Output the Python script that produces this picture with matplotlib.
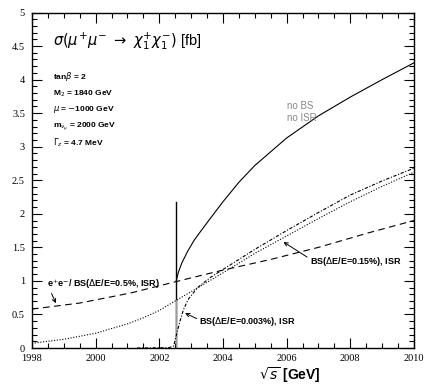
import matplotlib
matplotlib.use("Agg")
import matplotlib.pyplot as plt
from matplotlib.ticker import MultipleLocator

# sqrt(s) [GeV] vs sigma [fb]
x_nobs = [2002.53, 2002.6, 2002.7, 2002.9, 2003.1, 2003.3, 2003.6, 2004.0, 2004.5, 2005.0, 2006.0, 2007.0, 2008.0, 2009.0, 2010.0]
y_nobs = [1.00, 1.13, 1.26, 1.45, 1.61, 1.74, 1.93, 2.18, 2.47, 2.72, 3.13, 3.46, 3.74, 4.00, 4.25]

x_ee = [1998.0, 1999.5, 2001.1, 2002.53, 2003.9, 2005.5, 2007.0, 2008.6, 2010.0]
y_ee = [0.58, 0.67, 0.82, 0.99, 1.15, 1.32, 1.50, 1.72, 1.90]

x_bs15 = [1998.0, 1999.0, 2000.0, 2001.0, 2001.5, 2002.0, 2002.53, 2003.0, 2004.0, 2005.0, 2006.0, 2007.0, 2008.0, 2009.0, 2010.0]
y_bs15 = [0.07, 0.13, 0.22, 0.36, 0.45, 0.56, 0.71, 0.84, 1.12, 1.41, 1.67, 1.93, 2.18, 2.41, 2.62]

x_bs003 = [2001.3, 2002.3, 2002.45, 2002.55, 2002.65, 2002.75, 2002.9, 2003.2, 2003.6, 2004.1, 2005.0, 2006.0, 2007.0, 2008.0, 2009.0, 2010.0]
y_bs003 = [0.0, 0.005, 0.03, 0.22, 0.40, 0.56, 0.72, 0.90, 1.05, 1.20, 1.47, 1.75, 2.02, 2.28, 2.49, 2.68]

threshold = 2002.53
spike_top = 2.17

params = [r"tan$\beta$ = 2",
          r"M$_2$ = 1840 GeV",
          r"$\mu$ = $-$1000 GeV",
          r"m$_{\tilde{\nu}_\mu}$ = 2000 GeV",
          r"$\Gamma_z$ = 4.7 MeV"]

plt.rcParams['mathtext.fontset'] = 'dejavusans'
sans = ['Liberation Sans', 'DejaVu Sans']
serif = ['Liberation Serif', 'DejaVu Serif']

fig = plt.figure(figsize=(4.37, 3.85), dpi=100)
ax = fig.add_axes([0.0732, 0.0961, 0.8741, 0.8714])

lw = 0.8
ax.plot(x_nobs, y_nobs, color='black', lw=lw)
ax.plot([threshold, threshold], [0, spike_top], color='black', lw=1.0)
ax.plot([threshold, threshold], [0, y_bs15[6]], color='#999999', lw=1.0)
ax.plot(x_ee, y_ee, color='black', lw=lw, dashes=(6, 4))
ax.plot(x_bs15, y_bs15, color='black', lw=lw, linestyle=(0, (1, 1.5)))
ax.plot(x_bs003, y_bs003, color='black', lw=lw, linestyle=(0, (3, 1.5, 1, 1.5)))

ax.set_xlim(1998, 2010)
ax.set_ylim(0, 5)
ax.xaxis.set_major_locator(MultipleLocator(2))
ax.xaxis.set_minor_locator(MultipleLocator(0.5))
ax.yaxis.set_major_locator(MultipleLocator(0.5))
ax.yaxis.set_minor_locator(MultipleLocator(0.1))
ax.tick_params(which='both', direction='in', top=True, right=True, width=0.8)
ax.tick_params(which='major', length=7)
ax.tick_params(which='minor', length=3.5)
ax.tick_params(axis='x', pad=4)
ax.tick_params(axis='y', pad=5)
ax.set_yticks([0, 0.5, 1, 1.5, 2, 2.5, 3, 3.5, 4, 4.5, 5])
ax.set_yticklabels(['0', '0.5', '1', '1.5', '2', '2.5', '3', '3.5', '4', '4.5', '5'])
for lab in ax.get_xticklabels() + ax.get_yticklabels():
    lab.set_family(serif)
    lab.set_fontsize(7.5)
for s in ax.spines.values():
    s.set_linewidth(1.0)

ax.set_xlabel(r"$\sqrt{s}$ [GeV]", family=sans, fontsize=10, fontweight='bold')
ax.xaxis.set_label_coords(0.675, -0.05)

ax.text(1998.66, 4.57, r"$\sigma(\mu^{+}\mu^{-}\ \rightarrow\ \chi_1^{+}\chi_1^{-})$ [fb]",
        family=sans, fontsize=10.5, va='center')
for i, p in enumerate(params):
    ax.text(1998.66, 4.04 - i * 0.245, p, family=sans, fontsize=6,
            fontweight='bold', va='center')

ax.text(2006.0, 3.52, "no BS\nno ISR", family=sans, fontsize=7, color='#888888',
        va='center', linespacing=1.3)

arrow = dict(arrowstyle='->', color='black', lw=0.7, shrinkA=0, shrinkB=0)
ax.annotate(r"e$^{+}$e$^{-}$/ BS($\Delta$E/E=0.5%, ISR)", xy=(1998.75, 0.667),
            xytext=(1998.47, 0.955), family=sans, fontsize=6.5, fontweight='bold',
            va='center', arrowprops=dict(arrow, relpos=(0.03, 0.0)))
ax.annotate(r"BS($\Delta$E/E=0.003%), ISR", xy=(2002.81, 0.52),
            xytext=(2003.26, 0.40), family=sans, fontsize=6.5, fontweight='bold',
            va='center', arrowprops=dict(arrow, relpos=(0.0, 0.6)))
ax.annotate(r"BS($\Delta$E/E=0.15%), ISR", xy=(2005.9, 1.58),
            xytext=(2006.73, 1.29), family=sans, fontsize=6.5, fontweight='bold',
            va='center', arrowprops=dict(arrow, relpos=(0.0, 0.7)))

fig.savefig("out.png", dpi=100)
